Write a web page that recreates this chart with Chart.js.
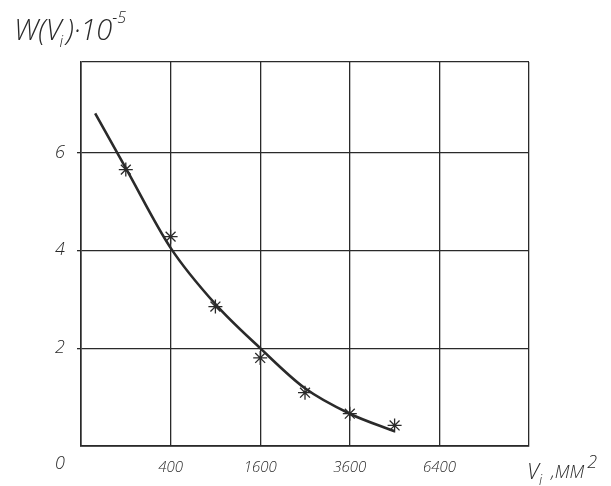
<!DOCTYPE html>
<html>
<head>
<meta charset="utf-8">
<script src="https://cdn.jsdelivr.net/npm/chart.js@4.4.1/dist/chart.umd.min.js"></script>
<style>
html, body { margin: 0; padding: 0; background: #fff; }
canvas { display: block; }
</style>
</head>
<body>
<canvas id="canvas" width="611" height="486"></canvas>
<script>
// measured points (stars), V in mm^2, W in units of 1e-5
var starV = [100, 400, 900, 1600, 2500, 3600, 4900];
var starW = [5.65, 4.28, 2.85, 1.80, 1.09, 0.66, 0.42];

// hand drawn fitted curve
var curveV = [10, 100, 400, 900, 1600, 2500, 3600, 4900];
var curveW = [6.8, 5.68, 4.05, 2.9, 2.0, 1.18, 0.66, 0.30];

var xTickLabels = [400, 1600, 3600, 6400];
var yTickLabels = [2, 4, 6];

var ink = '#2a2a2a';
var handFont = "'Open Sans', 'DejaVu Sans', sans-serif";

// the x axis is linear in sqrt(V)
var toPts = (vs, ws) => vs.map((v, i) => ({ x: Math.sqrt(v), y: ws[i] }));

var textPlugin = {
    id: 'handText',
    afterDraw(chart) {
        const c = chart.ctx;
        c.save();
        c.fillStyle = ink;
        c.textBaseline = 'alphabetic';
        c.textAlign = 'left';
        // y title W(Vi)·10^-5
        var x = 14;
        c.font = 'italic 300 29px ' + handFont;
        c.fillText('W(V', x, 40);
        x += c.measureText('W(V').width;
        c.font = 'italic 300 16px ' + handFont;
        c.fillText('i', x - 2, 47);
        x += c.measureText('i').width;
        c.font = 'italic 300 29px ' + handFont;
        c.fillText(')·10', x + 1, 40);
        x += c.measureText(')·10').width + 1;
        c.font = 'italic 300 16px ' + handFont;
        c.fillText('-5', x, 23);

        // x title Vi ,MM^2
        x = 527;
        c.font = 'italic 300 22px ' + handFont;
        c.fillText('V', x, 479);
        x += c.measureText('V').width;
        c.font = 'italic 300 14px ' + handFont;
        c.fillText('i', x, 485);
        x += c.measureText('i').width + 9;
        c.font = 'italic 300 18px ' + handFont;
        c.fillText(',MM', x, 478);
        x += c.measureText(',MM').width + 3;
        c.font = 'italic 300 18px ' + handFont;
        c.fillText('2', x, 468);

        // origin
        c.font = 'italic 300 18px ' + handFont;
        c.textAlign = 'center';
        c.fillText('0', 60, 469);
        c.restore();
    }
};

const ctx = document.getElementById('canvas').getContext('2d');
var chart = new Chart(ctx, {
    type: 'scatter',
    data: {
        datasets: [{
            label: 'curve',
            data: toPts(curveV, curveW),
            showLine: true,
            borderColor: ink,
            borderWidth: 2.6,
            pointRadius: 0,
            tension: 0.4,
            cubicInterpolationMode: 'monotone'
        }, {
            label: 'points',
            data: toPts(starV, starW),
            showLine: false,
            pointStyle: 'star',
            pointRadius: 7,
            borderColor: ink,
            borderWidth: 1.3,
            backgroundColor: ink
        }]
    },
    options: {
        responsive: false,
        animation: false,
        layout: { padding: { left: 0, right: 82, top: 62, bottom: 0 } },
        plugins: {
            legend: { display: false },
            tooltip: { enabled: false }
        },
        scales: {
            x: {
                type: 'linear',
                min: 0,
                max: 100,
                afterFit: s => { s.height = 40; },
                grid: { color: ink, lineWidth: 1.3, drawTicks: false },
                border: { color: ink, width: 1.8 },
                ticks: {
                    stepSize: 20,
                    padding: 13,
                    color: ink,
                    font: { family: handFont, size: 15, style: 'italic', weight: 300 },
                    callback: v => xTickLabels.includes(v * v) ? String(v * v) : ''
                }
            },
            y: {
                min: 0,
                max: 7.85,
                afterFit: s => { s.width = 81; },
                grid: {
                    color: ink,
                    lineWidth: 1.3,
                    tickLength: 4,
                    tickColor: c => yTickLabels.includes(c.tick.value) ? ink : 'rgba(0,0,0,0)'
                },
                border: { color: ink, width: 1.6 },
                ticks: {
                    stepSize: 2,
                    padding: 12,
                    color: ink,
                    font: { family: handFont, size: 18, style: 'italic', weight: 300 },
                    callback: v => yTickLabels.includes(v) ? String(v) : ''
                }
            }
        }
    },
    plugins: [textPlugin]
});
</script>
</body>
</html>
